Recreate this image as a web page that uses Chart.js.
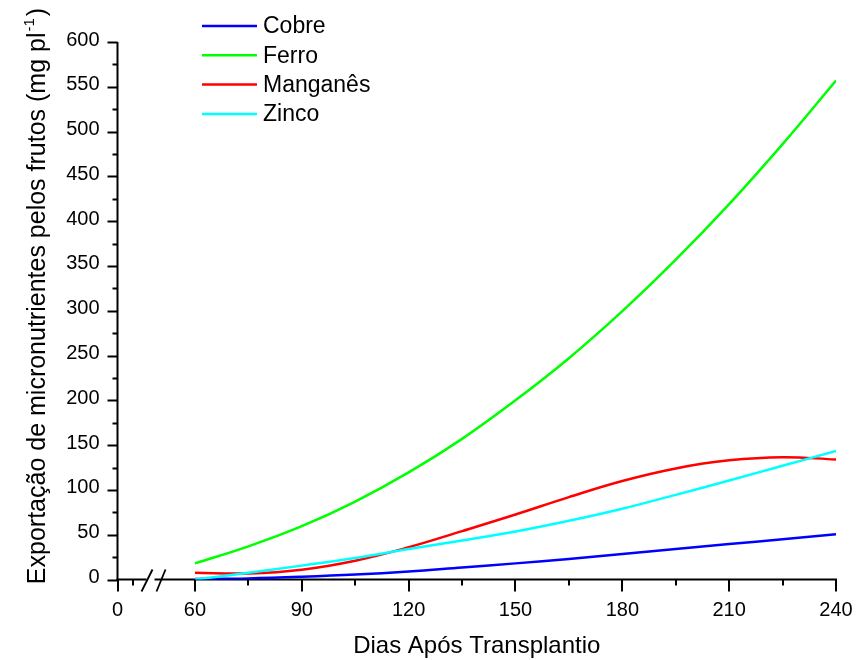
<!DOCTYPE html>
<html>
<head>
<meta charset="utf-8">
<script src="https://cdn.jsdelivr.net/npm/chart.js@4/dist/chart.umd.min.js"></script>
<style>
  html, body { margin: 0; padding: 0; background: #fff; }
  #wrap { width: 856px; height: 660px; }
</style>
</head>
<body>
<div id="wrap"><canvas id="chart" width="856" height="660"></canvas></div>
<script>
// fitted export curves, mg per plant, sampled every 15 days
const days     = [60, 75, 90, 105, 120, 135, 150, 165, 180, 195, 210, 225, 240];
const cobre    = [0.5, 1.2, 3, 5.5, 9, 13.5, 18, 23, 28.5, 34, 39.5, 45, 50.5];
const ferro    = [18, 37, 59.5, 87, 119.5, 157, 200, 247, 299.5, 357, 419, 486, 557];
const manganes = [7.5, 6.8, 11, 21, 36, 54, 72.5, 92, 110, 124, 133, 136.5, 134];
const zinco    = [0, 7.5, 15.5, 24, 34, 43.5, 53.5, 65.5, 79, 94.5, 110.5, 127, 143.5];

const seriesNames  = ['Cobre', 'Ferro', 'Manganês', 'Zinco'];
const seriesColors = ['#0000ff', '#00ff00', '#ff0000', '#00ffff'];

const xMajorTicks = [0, 60, 90, 120, 150, 180, 210, 240];
const xMinorTicks = [15, 75, 105, 135, 165, 195, 225];
const yMajorTicks = [0, 50, 100, 150, 200, 250, 300, 350, 400, 450, 500, 550, 600];
const yMinorTicks = [25, 75, 125, 175, 225, 275, 325, 375, 425, 475, 525, 575];

const xTitle = 'Dias Após Transplantio';
const yTitle = 'Exportação de micronutrientes pelos frutos (mg pl';
const yTitleSup = '-1';

// the 0..60 stretch is squeezed into a short stub before the axis break
const X_AXIS_MIN = 38.25;
const STUB_SCALE = 0.285;
function axisX(d) { return d >= 60 ? d : X_AXIS_MIN + d * STUB_SCALE; }

const FONT = '"Liberation Sans", Arial, sans-serif';

function seg(ctx, ax, ay, bx, by) {
  ctx.beginPath();
  ctx.moveTo(ax, ay);
  ctx.lineTo(bx, by);
  ctx.stroke();
}

const axesPlugin = {
  id: 'axes',
  beforeDatasetsDraw(chart) {
    const { ctx } = chart;
    const x = chart.scales.x, y = chart.scales.y;
    const left = x.getPixelForValue(X_AXIS_MIN);
    const right = x.getPixelForValue(240);
    const bottom = y.getPixelForValue(0);
    const top = y.getPixelForValue(600);

    ctx.save();
    ctx.strokeStyle = '#000';
    ctx.lineWidth = 2;
    ctx.lineCap = 'butt';

    // y axis + ticks
    seg(ctx, left, bottom + 1, left, top);
    yMajorTicks.forEach(v => {
      const py = Math.round(y.getPixelForValue(v)) + 0.5;
      seg(ctx, left - 10, py, left, py);
    });
    yMinorTicks.forEach(v => {
      const py = Math.round(y.getPixelForValue(v)) + 0.5;
      seg(ctx, left - 5, py, left, py);
    });

    // x axis with the break
    seg(ctx, left - 1, bottom, left + 29, bottom);
    seg(ctx, left + 37, bottom, right + 1, bottom);
    ctx.lineWidth = 1.8;
    seg(ctx, left + 24, bottom + 12, left + 35, bottom - 10);
    seg(ctx, left + 39, bottom + 12, left + 48, bottom - 10);
    ctx.lineWidth = 2;
    xMajorTicks.forEach(v => {
      const px = Math.round(x.getPixelForValue(axisX(v)));
      seg(ctx, px, bottom, px, bottom + 12);
    });
    xMinorTicks.forEach(v => {
      const px = Math.round(x.getPixelForValue(axisX(v)));
      seg(ctx, px, bottom, px, bottom + 6);
    });

    // tick labels
    ctx.fillStyle = '#000';
    ctx.font = '20px ' + FONT;
    ctx.textAlign = 'center';
    ctx.textBaseline = 'top';
    xMajorTicks.forEach(v => {
      ctx.fillText(String(v), x.getPixelForValue(axisX(v)), bottom + 21);
    });
    ctx.textAlign = 'right';
    ctx.textBaseline = 'middle';
    yMajorTicks.forEach(v => {
      ctx.fillText(String(v), left - 18, y.getPixelForValue(v) - 2);
    });
    ctx.restore();
  },
  afterDraw(chart) {
    const { ctx } = chart;
    const x = chart.scales.x;
    const left = x.getPixelForValue(X_AXIS_MIN);
    const right = x.getPixelForValue(240);
    ctx.save();
    ctx.fillStyle = '#000';

    // x title
    ctx.font = '24px ' + FONT;
    ctx.textAlign = 'center';
    ctx.textBaseline = 'alphabetic';
    ctx.fillText(xTitle, (left + right) / 2, 653);

    // y title, rotated, with superscript
    ctx.translate(45, 296);
    ctx.rotate(-Math.PI / 2);
    ctx.font = '25px ' + FONT;
    const mainW = ctx.measureText(yTitle).width;
    const closeW = ctx.measureText(')').width;
    ctx.font = '15px ' + FONT;
    const supW = ctx.measureText(yTitleSup).width;
    let cx = -(mainW + supW + closeW + 3) / 2;
    ctx.textAlign = 'left';
    ctx.font = '25px ' + FONT;
    ctx.fillText(yTitle, cx, 0);
    cx += mainW;
    ctx.font = '15px ' + FONT;
    ctx.fillText(yTitleSup, cx + 1, -11);
    cx += supW + 3;
    ctx.font = '25px ' + FONT;
    ctx.fillText(')', cx, 0);
    ctx.restore();

    // legend
    ctx.save();
    ctx.font = '23px ' + FONT;
    ctx.textAlign = 'left';
    ctx.textBaseline = 'middle';
    chart.data.datasets.forEach((ds, i) => {
      const ly = 26 + i * 29.3;
      ctx.strokeStyle = ds.borderColor;
      ctx.lineWidth = 2.5;
      seg(ctx, 202, ly, 257, ly);
      ctx.fillStyle = '#000';
      ctx.fillText(ds.label, 263, ly + 1);
    });
    ctx.restore();
  }
};

const seriesValues = [cobre, ferro, manganes, zinco];

new Chart(document.getElementById('chart'), {
  type: 'line',
  data: {
    datasets: seriesValues.map((vals, i) => ({
      label: seriesNames[i],
      data: days.map((d, k) => ({ x: d, y: vals[k] })),
      borderColor: seriesColors[i],
      borderWidth: 2.5,
      pointRadius: 0,
      tension: 0.4,
      fill: false,
      order: 3 - i
    }))
  },
  options: {
    responsive: false,
    devicePixelRatio: 1,
    animation: false,
    layout: { padding: { left: 117.5, right: 20, top: 42, bottom: 80.5 } },
    plugins: { legend: { display: false }, tooltip: { enabled: false } },
    scales: {
      x: { type: 'linear', min: X_AXIS_MIN, max: 240, display: false },
      y: { type: 'linear', min: 0, max: 600, display: false }
    }
  },
  plugins: [axesPlugin]
});
</script>
</body>
</html>
